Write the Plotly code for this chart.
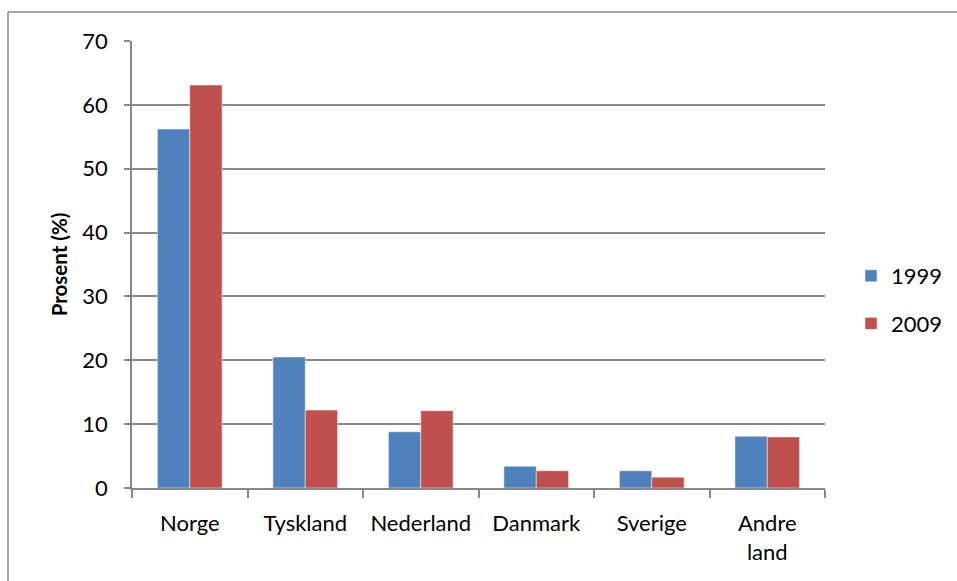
import plotly.graph_objects as go

categories = ["Norge", "Tyskland", "Nederland", "Danmark", "Sverige", "Andre<br>land"]
series_names = ["1999", "2009"]
values_1999 = [56.2, 20.5, 8.8, 3.4, 2.7, 8.1]
values_2009 = [63.1, 12.2, 12.1, 2.7, 1.7, 8.0]
y_ticks = [0, 10, 20, 30, 40, 50, 60, 70]
colors = ["#4F81BD", "#C0504D"]

FONT = "Lato, 'Open Sans', sans-serif"
FS = 22
BORDER = "#878787"
W, H = 957, 581
L, T, PW, PH = 132, 41, 693, 447

fig = go.Figure()
for name, vals, col in zip(series_names, [values_1999, values_2009], colors):
    fig.add_trace(go.Bar(
        x=categories, y=vals, name=name, legendgroup=name,
        marker=dict(color=col, line=dict(color="rgba(255,255,255,0.6)", width=0.8)),
    ))

bx = (8 - L) / PW
by = (T + PH - 12) / PH

fig.update_layout(
    width=W, height=H,
    margin=dict(l=L, r=W - L - PW, t=T, b=H - T - PH, autoexpand=False),
    paper_bgcolor="white", plot_bgcolor="white",
    barmode="group", bargap=0.44, bargroupgap=0,
    font=dict(family=FONT, size=FS, color="black"),
    showlegend=True,
    legend=dict(xref="container", yref="container", x=851 / W, y=(H - 300) / H,
                xanchor="left", yanchor="middle",
                traceorder="grouped", tracegroupgap=16,
                font=dict(family=FONT, size=FS, color="black"),
                bgcolor="rgba(0,0,0,0)"),
    shapes=[
        dict(type="line", xref="paper", yref="paper",
             x0=bx, x1=bx, y0=-0.4, y1=by,
             line=dict(color=BORDER, width=1.5), layer="below"),
        dict(type="line", xref="paper", yref="paper",
             x0=bx, x1=1.4, y0=by, y1=by,
             line=dict(color=BORDER, width=1.5), layer="below"),
    ],
)

fig.update_xaxes(
    type="category", tickson="boundaries", ticks="outside", ticklen=8,
    tickcolor=BORDER, tickwidth=1.5,
    showline=True, linecolor=BORDER, linewidth=1.5,
    showgrid=False, tickfont=dict(family=FONT, size=FS, color="black"),
    ticklabelstandoff=15,
)
fig.update_yaxes(
    range=[0, 70], tickvals=y_ticks, ticks="outside", ticklen=6,
    tickcolor=BORDER, tickwidth=1.5,
    showline=True, linecolor=BORDER, linewidth=1.5,
    showgrid=True, gridcolor=BORDER, gridwidth=1.5,
    zeroline=False,
    tickfont=dict(family=FONT, size=FS, color="black"),
    ticklabelstandoff=12,
    title=dict(text="<b>Prosent (%)</b>", font=dict(family=FONT, size=20.5, color="black"),
               standoff=9),
)

fig.write_html(
    "out.html",
    config={"displayModeBar": False},
    post_script="document.body.style.margin='0';document.body.style.overflow='hidden';",
)
